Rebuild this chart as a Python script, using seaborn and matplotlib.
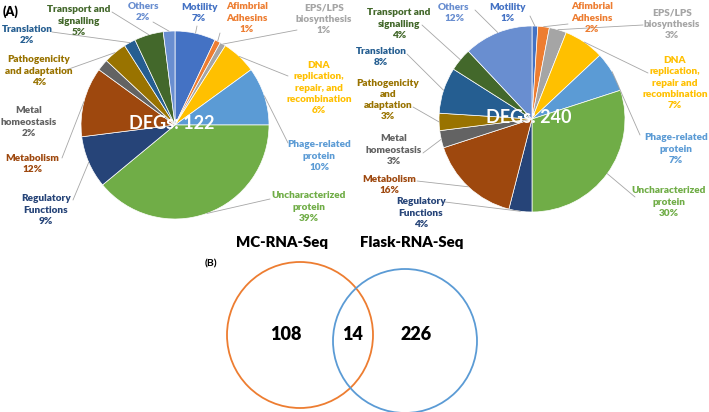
import matplotlib
matplotlib.use("Agg")
import matplotlib.pyplot as plt
import seaborn as sns
from matplotlib.patches import Circle
import numpy as np

# ---- data ----
categories = ["Motility", "Afimbrial\nAdhesins", "EPS/LPS\nbiosynthesis",
              "DNA\nreplication,\nrepair, and\nrecombination", "Phage-related\nprotein",
              "Uncharacterized\nprotein", "Regulatory\nFunctions", "Metabolism",
              "Metal\nhomeostasis", "Pathogenicity\nand adaptation", "Translation",
              "Transport and\nsignalling", "Others"]
categories_flask = ["Motility", "Afimbrial\nAdhesins", "EPS/LPS\nbiosynthesis",
                    "DNA\nreplication,\nrepair and\nrecombination", "Phage-related\nprotein",
                    "Uncharacterized\nprotein", "Regulatory\nFunctions", "Metabolism",
                    "Metal\nhomeostasis", "Pathogenicity\nand\nadaptation", "Translation",
                    "Transport and\nsignalling", "Others"]
mc_pct = [7, 1, 1, 6, 10, 39, 9, 12, 2, 4, 2, 5, 2]
flask_pct = [1, 2, 3, 7, 7, 30, 4, 16, 3, 3, 8, 4, 12]
mc_total = 122
flask_total = 240
venn_only_mc = 108
venn_shared = 14
venn_only_flask = 226

colors = ["#4472C4", "#ED7D31", "#A5A5A5", "#FFC000", "#5B9BD5", "#70AD47",
          "#264478", "#9E480E", "#636363", "#997300", "#255E91", "#43682B", "#698ED0"]

# ---- layout (pixel coordinates, y measured from top) ----
W, H = 709, 412
mc_center, mc_r = (175, 125), 94
fl_center, fl_r = (532, 119), 93

mc_label_pos = [(199, 13), (247, 18), (324, 19), (319, 88), (319, 156), (309, 207),
                (46, 210), (32, 164), (29, 122), (39, 71), (27, 35), (79, 21), (143, 12)]
mc_anchor = [(197, 26), (220, 33), (297, 30), (288, 76), (288, 143), (270, 199),
             (73, 200), (62, 158), None, (66, 70), (52, 32), (112, 12), (153, 22)]

fl_label_pos = [(508, 13), (592, 18), (672, 24), (675, 83), (676, 149), (669, 202),
                (421, 213), (389, 185), (394, 150), (388, 100), (381, 57), (399, 24), (454, 13)]
fl_anchor = [(530, 16), (568, 24), (643, 25), (648, 73), (640, 135), (635, 197),
             (445, 202), (417, 181), (423, 153), (413, 107), (407, 54), (422, 25), (475, 10)]

sns.set_theme(style="white")
plt.rcParams['font.family'] = ['Lato', 'DejaVu Sans']

fig = plt.figure(figsize=(W / 100, H / 100), dpi=100)
ax = fig.add_axes([0, 0, 1, 1])


def Y(y):
    return H - y


def draw_pie(values, labels, center, r, label_pos, anchors, total):
    cx, cy = center
    wedges, _ = ax.pie(values, colors=colors, startangle=90, counterclock=False,
                       center=(cx, Y(cy)), radius=r,
                       wedgeprops=dict(edgecolor="white", linewidth=0.5))
    for w, lab, v, col, pos, anc in zip(wedges, labels, values, colors, label_pos, anchors):
        mid = np.deg2rad((w.theta1 + w.theta2) / 2)
        rx = cx + r * np.cos(mid)
        ry = Y(cy) + r * np.sin(mid)
        if anc is not None:
            ax.plot([rx, anc[0]], [ry, Y(anc[1])], color="#A6A6A6", lw=0.6, zorder=1)
        ax.text(pos[0], Y(pos[1]), f"{lab}\n{v}%", ha="center", va="center",
                color=col, fontsize=7.2, fontweight="heavy", linespacing=1.3, zorder=3)
    ax.text(cx - 3, Y(cy - 2), f"DEGs: {total}", ha="center", va="center",
            color="white", fontsize=13, fontweight="bold", zorder=4)


draw_pie(mc_pct, categories, mc_center, mc_r, mc_label_pos, mc_anchor, mc_total)
draw_pie(flask_pct, categories_flask, fl_center, fl_r, fl_label_pos, fl_anchor, flask_total)

# ---- Venn ----
ax.add_patch(Circle((300, Y(335)), 73, fill=False, edgecolor="#ED7D31", lw=1.3))
ax.add_patch(Circle((405, Y(341)), 72, fill=False, edgecolor="#5B9BD5", lw=1.3))
ax.text(286, Y(334), str(venn_only_mc), ha="center", va="center", fontsize=13, fontweight="heavy", color="black")
ax.text(353, Y(334), str(venn_shared), ha="center", va="center", fontsize=13, fontweight="heavy", color="black")
ax.text(416, Y(334), str(venn_only_flask), ha="center", va="center", fontsize=13, fontweight="heavy", color="black")
ax.text(282, Y(242), "MC-RNA-Seq", ha="center", va="center", fontsize=10.8, fontweight="heavy", color="black")
ax.text(412, Y(242), "Flask-RNA-Seq", ha="center", va="center", fontsize=10.8, fontweight="heavy", color="black")
ax.text(211, Y(264), "(B)", ha="center", va="center", fontsize=7.5, fontweight="bold", color="black")
ax.text(3, Y(12), "(A)", ha="left", va="center", fontsize=9, fontweight="heavy", color="black")

ax.set_xlim(0, W)
ax.set_ylim(0, H)
ax.set_aspect("equal")
ax.axis("off")

fig.savefig("out.png", dpi=100)
